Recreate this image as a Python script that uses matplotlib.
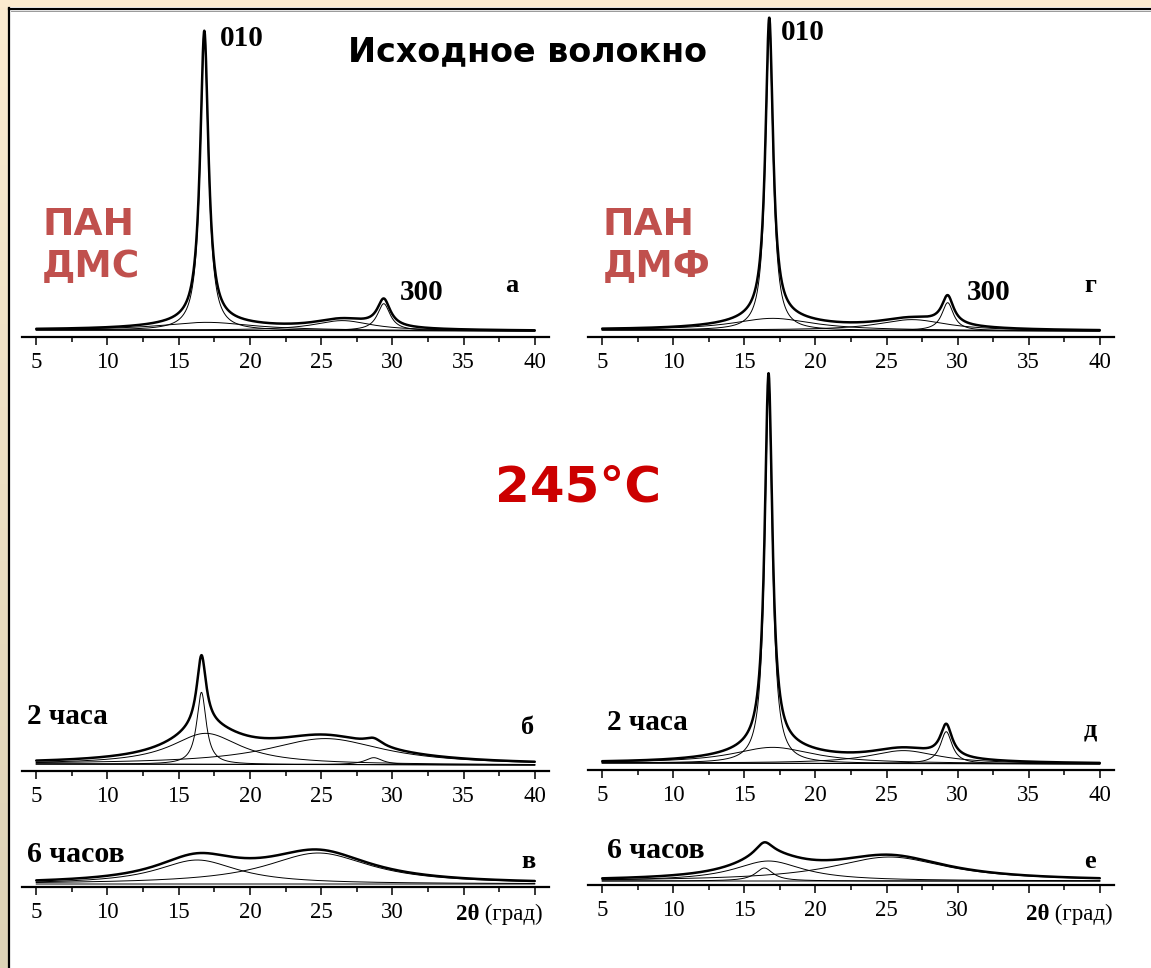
import matplotlib
matplotlib.use("Agg")
import matplotlib.pyplot as plt
import numpy as np

W, H = 1151, 968

# peak decomposition of each diffractogram (2theta in degrees, intensity in arb. units)
# baseline given as (value at 5 deg, value at 40 deg)
a_centers = [16.8, 17.0, 26.5, 29.4]
a_heights = [291, 8, 10, 27]
a_fwhm = [0.7, 8.0, 5.0, 1.1]
a_base = (7, 6)

g_centers = [16.75, 17.0, 26.8, 29.3]
g_heights = [300, 12, 11, 28]
g_fwhm = [0.65, 7.0, 6.0, 1.0]
g_base = (7, 6)

b_centers = [16.6, 16.9, 25.3, 28.7]
b_heights = [72, 31, 26, 7]
b_fwhm = [0.8, 6.0, 10.0, 1.5]
b_base = (7, 6)

d_centers = [16.7, 17.0, 26.2, 29.2]
d_heights = [373, 16, 13, 32]
d_fwhm = [0.65, 7.0, 6.0, 1.0]
d_base = (7, 6)

v_centers = [16.3, 24.8]
v_heights = [24, 31]
v_fwhm = [7.0, 9.0]
v_base = (3, 3)

e_centers = [16.4, 16.7, 25.2]
e_heights = [13, 20, 24]
e_fwhm = [1.5, 6.0, 10.0]
e_base = (4, 4)

major_ticks = [5, 10, 15, 20, 25, 30, 35, 40]
minor_ticks = [7.5, 12.5, 17.5, 22.5, 27.5, 32.5, 37.5]


def lorentz(x, c, h, fwhm):
    hw = fwhm / 2.0
    return h * hw ** 2 / ((x - c) ** 2 + hw ** 2)


def fx(px):
    return px / W


def fy(py):
    return 1 - py / H


def make_panel(left, axis_y, width, height, last_labels=True):
    ax = fig.add_axes([fx(left), fy(axis_y), fx(width), height / H])
    ax.set_facecolor("none")
    ax.set_xlim(4.0, 41.0)
    ax.set_ylim(0, height)
    for s in ("left", "right", "top"):
        ax.spines[s].set_visible(False)
    ax.spines["bottom"].set_linewidth(1.6)
    ax.set_yticks([])
    ax.set_xticks(major_ticks)
    ax.set_xticks(minor_ticks, minor=True)
    labels = [str(t) for t in major_ticks]
    if not last_labels:
        labels = [l if t <= 30 else "" for t, l in zip(major_ticks, labels)]
    ax.set_xticklabels(labels, fontfamily="Liberation Serif", fontsize=16.5)
    ax.tick_params(axis="x", which="major", direction="out", length=6, width=1.1, pad=5)
    ax.tick_params(axis="x", which="minor", direction="out", length=3.5, width=1.1)
    return ax


def draw_pattern(ax, centers, heights, fwhm, base):
    x = np.linspace(5, 40, 1751)
    bl = base[0] + (base[1] - base[0]) * (x - 5) / 35.0
    total = bl.copy()
    for c, h, w in zip(centers, heights, fwhm):
        comp = lorentz(x, c, h, w)
        total += comp
        ax.plot(x, bl + comp, color="black", lw=0.7, clip_on=False)
    ax.plot(x, bl, color="black", lw=0.7, clip_on=False)
    ax.plot(x, total, color="black", lw=1.8, clip_on=False, solid_capstyle="round")


fig = plt.figure(figsize=(W / 100, H / 100), dpi=100)
fig.patch.set_facecolor("white")

# slide frame
bg = fig.add_axes([0, 0, 1, 1])
bg.axis("off")
grad = np.linspace(0, 1, 200)[:, None]
bg.imshow(grad, extent=(0, 8, H, 0), cmap=matplotlib.colors.LinearSegmentedColormap.from_list(
    "frame", ["#fbebd0", "#ddd3b6"]), aspect="auto")
bg.fill_between([0, W], 0, 7, color="#fbebd0", lw=0)
bg.plot([9, W], [8.5, 8.5], color="black", lw=1.6)
bg.plot([9.5, 9.5], [8, H], color="black", lw=1.6)
bg.plot([11, W], [10.5, 10.5], color="#999999", lw=0.7)
bg.set_xlim(0, W)
bg.set_ylim(H, 0)

ax_a = make_panel(22, 337, 527, 327)
draw_pattern(ax_a, a_centers, a_heights, a_fwhm, a_base)
ax_g = make_panel(588, 337, 526, 327)
draw_pattern(ax_g, g_centers, g_heights, g_fwhm, g_base)
ax_b = make_panel(22, 771, 527, 130)
draw_pattern(ax_b, b_centers, b_heights, b_fwhm, b_base)
ax_d = make_panel(588, 770, 526, 410)
draw_pattern(ax_d, d_centers, d_heights, d_fwhm, d_base)
ax_v = make_panel(22, 887, 527, 60, last_labels=False)
draw_pattern(ax_v, v_centers, v_heights, v_fwhm, v_base)
ax_e = make_panel(588, 885, 526, 60, last_labels=False)
draw_pattern(ax_e, e_centers, e_heights, e_fwhm, e_base)

serif = "Liberation Serif"
sans = "DejaVu Sans"


def put(x, y, s, **kw):
    fig.text(fx(x), fy(y), s, **kw)


bold_serif = dict(fontfamily=serif, fontweight="bold", va="center")
put(220, 38, "010", fontsize=21, ha="left", **bold_serif)
put(400, 292, "300", fontsize=21, ha="left", **bold_serif)
put(512, 285, "а", fontsize=19, ha="center", **bold_serif)
put(781, 33, "010", fontsize=21, ha="left", **bold_serif)
put(967, 292, "300", fontsize=21, ha="left", **bold_serif)
put(1090, 285, "г", fontsize=19, ha="center", **bold_serif)

put(27, 716, "2 часа", fontsize=21, ha="left", **bold_serif)
put(528, 728, "б", fontsize=19, ha="center", **bold_serif)
put(607, 722, "2 часа", fontsize=21, ha="left", **bold_serif)
put(1090, 730, "д", fontsize=19, ha="center", **bold_serif)
put(27, 855, "6 часов", fontsize=21.5, ha="left", **bold_serif)
put(528, 862, "в", fontsize=19, ha="center", **bold_serif)
put(607, 851, "6 часов", fontsize=21.5, ha="left", **bold_serif)
put(1090, 862, "е", fontsize=19, ha="center", **bold_serif)

for xr, yr in ((543, 914), (1113, 914)):
    t = fig.text(fx(xr), fy(yr), " (град)", fontfamily=serif, fontsize=16.5, ha="right", va="center")
    fig.canvas.draw()
    bb = t.get_window_extent()
    fig.text(bb.x0 / W, fy(yr), "2θ", fontfamily=serif, fontweight="bold", fontsize=16.5,
             ha="right", va="center")

put(528, 52, "Исходное волокно", fontfamily=sans, fontweight="bold", fontsize=24,
    ha="center", va="center")
put(42, 246, "ПАН\nДМС", fontfamily=sans, fontweight="bold", fontsize=27, color="#c0504d",
    ha="left", va="center", linespacing=1.2)
put(603, 246, "ПАН\nДМФ", fontfamily=sans, fontweight="bold", fontsize=27, color="#c0504d",
    ha="left", va="center", linespacing=1.2)
put(578, 487, "245°С", fontfamily=sans, fontweight="bold", fontsize=36, color="#cc0000",
    ha="center", va="center")

fig.savefig("out.png", dpi=100, facecolor=fig.get_facecolor())
